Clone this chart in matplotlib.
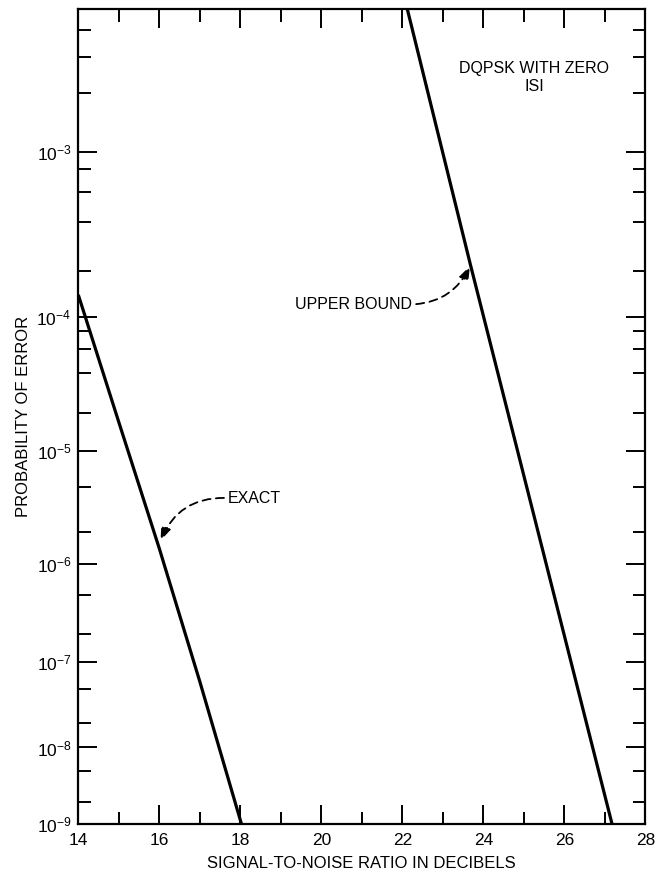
import numpy as np
import matplotlib
matplotlib.use("Agg")
import matplotlib.pyplot as plt
from matplotlib.ticker import FixedLocator, FixedFormatter

plt.rcParams['font.family'] = ['Liberation Sans', 'DejaVu Sans']
plt.rcParams['mathtext.fontset'] = 'custom'
plt.rcParams['mathtext.rm'] = 'Liberation Sans'
plt.rcParams['mathtext.it'] = 'Liberation Sans'
plt.rcParams['mathtext.bf'] = 'Liberation Sans'
plt.rcParams['mathtext.default'] = 'regular'

# ---- data ----
exact_snr = [14.0, 15.0, 16.0, 17.0, 18.03]
exact_pe = [1.4e-4, 1.7e-5, 1.4e-6, 6.0e-8, 1.0e-9]

upper_snr = [22.12, 23.68, 27.18]
upper_pe = [5.0e-3, 2.2e-4, 1.0e-9]

x_major = [14, 16, 18, 20, 22, 24, 26, 28]
x_minor = [15, 17, 19, 21, 23, 25, 27]
y_major = [1e-9, 1e-8, 1e-7, 1e-6, 1e-5, 1e-4, 1e-3]
y_major_labels = ['10$^{-9}$', '10$^{-8}$', '10$^{-7}$', '10$^{-6}$',
                  '10$^{-5}$', '10$^{-4}$', '10$^{-3}$']
y_minor = [2e-9, 5e-9, 2e-8, 5e-8, 2e-7, 5e-7, 2e-6, 5e-6,
           2e-5, 4e-5, 6e-5, 8e-5, 2e-4, 4e-4, 6e-4, 8e-4,
           2e-3, 3e-3, 4e-3]

# ---- probability scale: position ~ -log10(2 - ln p) ----
C = 2.0


def fwd(p):
    p = np.asarray(p, dtype=float)
    p = np.clip(p, 1e-300, np.exp(C) * 0.999)
    return -np.log10(C - np.log(p))


def inv(y):
    y = np.asarray(y, dtype=float)
    return np.exp(C - 10.0 ** (-y))


fig = plt.figure(figsize=(6.57, 8.76), dpi=100)
ax = fig.add_axes([78.3 / 657, 1 - 824.2 / 876, (645.3 - 78.3) / 657, (824.2 - 8.5) / 876])
ax.set_yscale('function', functions=(fwd, inv))
ax.set_xlim(14, 28)
ax.set_ylim(1e-9, 5e-3)

ax.plot(exact_snr, exact_pe, color='black', lw=2.3, solid_capstyle='butt')
ax.plot(upper_snr, upper_pe, color='black', lw=2.3, solid_capstyle='butt')

ax.xaxis.set_major_locator(FixedLocator(x_major))
ax.xaxis.set_minor_locator(FixedLocator(x_minor))
ax.set_xticklabels([str(v) for v in x_major])
ax.yaxis.set_major_locator(FixedLocator(y_major))
ax.yaxis.set_major_formatter(FixedFormatter(y_major_labels))
ax.yaxis.set_minor_locator(FixedLocator(y_minor))
ax.yaxis.set_minor_formatter(FixedFormatter([''] * len(y_minor)))

ax.tick_params(which='both', direction='in', top=True, right=True, width=1.4, color='black')
ax.tick_params(which='major', length=13.5, labelsize=12.5, pad=5.0)
ax.tick_params(axis='x', which='major', pad=6.0)
ax.tick_params(which='minor', length=9.0)
for s in ax.spines.values():
    s.set_linewidth(1.6)

ax.set_xlabel('SIGNAL-TO-NOISE RATIO IN DECIBELS', fontsize=12, labelpad=6)
ax.set_ylabel('PROBABILITY OF ERROR', fontsize=12, labelpad=4)

ax.text(25.25, 2.4e-3, 'DQPSK WITH ZERO\nISI', ha='center', va='center',
        multialignment='center', fontsize=11.5, linespacing=1.2)

ax.annotate('EXACT', xy=(16.03, 1.65e-6), xytext=(17.7, 4.0e-6),
            ha='left', va='center', fontsize=11.5,
            arrowprops=dict(arrowstyle='-|>,head_length=0.7,head_width=0.25',
                            color='black', lw=1.3, linestyle=(0, (4.5, 3)),
                            connectionstyle='arc3,rad=0.35',
                            relpos=(0.0, 0.5), shrinkA=1, shrinkB=0))

ax.annotate('UPPER BOUND', xy=(23.67, 2.15e-4), xytext=(19.35, 1.21e-4),
            ha='left', va='center', fontsize=11.5,
            arrowprops=dict(arrowstyle='-|>,head_length=0.7,head_width=0.25',
                            color='black', lw=1.3, linestyle=(0, (4.5, 3)),
                            connectionstyle='arc3,rad=0.3',
                            relpos=(1.0, 0.5), shrinkA=1, shrinkB=0))

fig.savefig('out.png', dpi=100)
